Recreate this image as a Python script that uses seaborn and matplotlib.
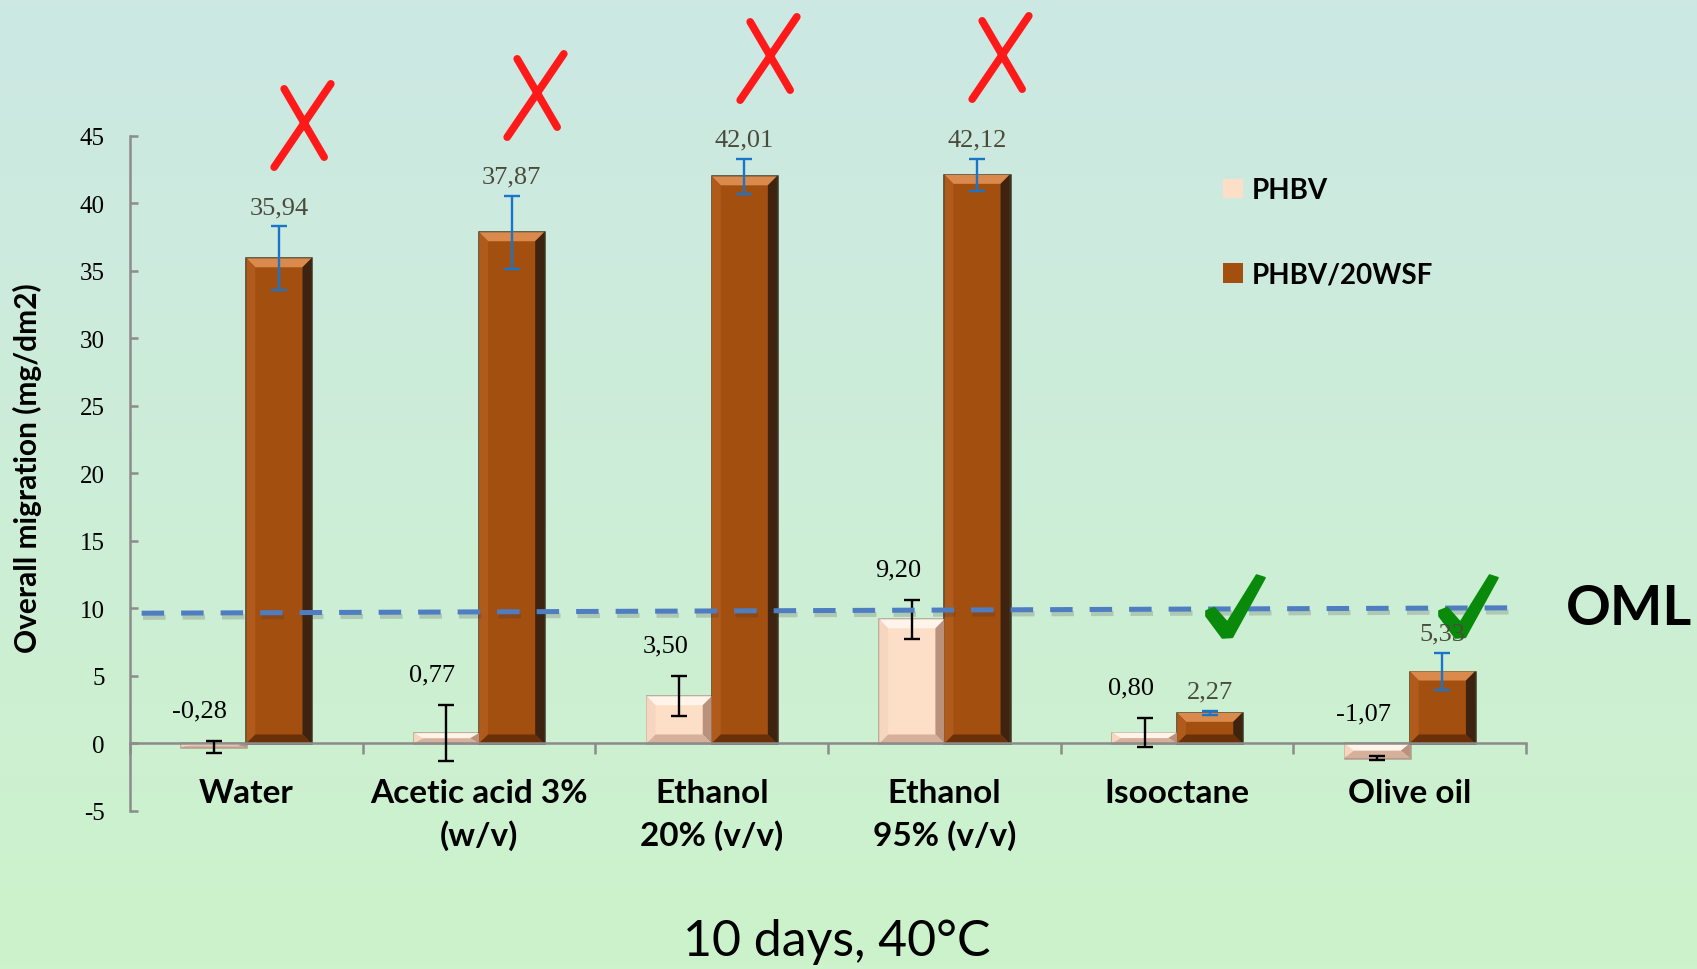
import numpy as np
import pandas as pd
import matplotlib
matplotlib.use("Agg")
import matplotlib.pyplot as plt
import matplotlib.patheffects as pe
from matplotlib.patches import Polygon
from matplotlib.path import Path
from matplotlib.markers import MarkerStyle
from matplotlib.colors import LinearSegmentedColormap
import seaborn as sns

# 데이터
media = ["Water", "Acetic acid 3%\n(w/v)", "Ethanol\n20% (v/v)",
         "Ethanol\n95% (v/v)", "Isooctane", "Olive oil"]
samples = ["PHBV", "PHBV/20WSF"]
phbv = [-0.28, 0.77, 3.50, 9.20, 0.80, -1.07]
phbv_sd = [0.45, 2.08, 1.50, 1.45, 1.07, 0.15]
wsf = [35.94, 37.87, 42.01, 42.12, 2.27, 5.33]
wsf_sd = [2.36, 2.70, 1.28, 1.20, 0.15, 1.36]
passed = [False, False, False, False, True, True]
oml = 10
y_ticks = [-5, 0, 5, 10, 15, 20, 25, 30, 35, 40, 45]

df = pd.DataFrame({
    "medium": media * 2,
    "sample": [samples[0]] * 6 + [samples[1]] * 6,
    "value": phbv + wsf,
})

plt.rcParams["axes.unicode_minus"] = False
serif = "Liberation Serif"
sans = "Lato"

fig = plt.figure(figsize=(16.97, 9.70), dpi=100)

# 배경 그라데이션
bg = fig.add_axes([0, 0, 1, 1])
grad = np.linspace(0, 1, 256).reshape(-1, 1)
cmap_bg = LinearSegmentedColormap.from_list("bg", ["#cde8e4", "#ccf3cb"])
bg.imshow(grad, aspect="auto", cmap=cmap_bg, extent=[0, 1, 0, 1])
bg.axis("off")

ax = fig.add_axes([0.0766, 0.1629, 0.8227, 0.6959])
ax.set_facecolor("none")

face = ["#fddfc7", "#a34f10"]
sns.barplot(data=df, x="medium", y="value", hue="sample", palette=face,
            saturation=1, width=0.56, errorbar=None, ax=ax, zorder=2)
bar_conts = list(ax.containers)

ax.set_xlim(-0.5, 5.5)
ax.set_ylim(-5, 45)

leg = ax.get_legend()
handles = leg.legend_handles
labels = [t.get_text() for t in leg.get_texts()]
leg.remove()

# 막대 테두리 + 입체(베벨) 효과
edge = ["#b39c8b", "#3d3522"]
bevel = [("#fff4ea", "#f6d6bf", "#b8927d", "#d6b09a"),
         ("#d98a4c", "#b05a1c", "#3e2410", "#6a3008")]
p0 = ax.transData.transform((0, 0))
p1 = ax.transData.transform((1, 1))
bx = 9 / (p1[0] - p0[0])
by_full = 9 / (p1[1] - p0[1])
for ci, cont in enumerate(bar_conts):
    for bar in cont:
        bar.set_edgecolor(edge[ci])
        bar.set_linewidth(1.8)
        x0 = bar.get_x()
        x1 = x0 + bar.get_width()
        y0 = min(bar.get_y(), bar.get_y() + bar.get_height())
        y1 = max(bar.get_y(), bar.get_y() + bar.get_height())
        by = min(by_full, (y1 - y0) / 2)
        top, left, right, bottom = bevel[ci]
        polys = [
            ([(x0, y1), (x1, y1), (x1 - bx, y1 - by), (x0 + bx, y1 - by)], top),
            ([(x0, y0), (x0, y1), (x0 + bx, y1 - by), (x0 + bx, y0 + by)], left),
            ([(x1, y0), (x1, y1), (x1 - bx, y1 - by), (x1 - bx, y0 + by)], right),
            ([(x0, y0), (x1, y0), (x1 - bx, y0 + by), (x0 + bx, y0 + by)], bottom),
        ]
        for pts, col in polys:
            ax.add_patch(Polygon(pts, closed=True, facecolor=col,
                                 edgecolor="none", zorder=2.1))

# 오차 막대
err_col = ["black", "#1a75c8"]
sds = [phbv_sd, wsf_sd]
vals = [phbv, wsf]
xs = []
for ci, cont in enumerate(bar_conts):
    x = [b.get_x() + b.get_width() / 2 for b in cont]
    xs.append(x)
    ax.errorbar(x, vals[ci], yerr=sds[ci], fmt="none", ecolor=err_col[ci],
                elinewidth=1.7, capsize=6, capthick=1.7, zorder=3)

# 값 라벨
for i in range(6):
    v, s = phbv[i], phbv_sd[i]
    ax.annotate(f"{v:.2f}".replace(".", ","), (xs[0][i] - 0.06, max(v + s, 0)),
                xytext=(0, 14), textcoords="offset points", ha="center",
                va="bottom", fontsize=19, family=serif, color="black", zorder=6)
    v, s = wsf[i], wsf_sd[i]
    ax.annotate(f"{v:.2f}".replace(".", ","), (xs[1][i], v + s),
                xytext=(0, 6), textcoords="offset points", ha="center",
                va="bottom", fontsize=19, family=serif, color="#4b4b3d", zorder=6)

# OML 기준선
ax.plot([-0.45, 5.45], [oml - 0.35, oml + 0.05], color="#4f7dc2", lw=3.6,
        dashes=(4.5, 3.4), zorder=4,
        path_effects=[pe.SimpleLineShadow(offset=(1, -3), alpha=0.2, shadow_color="#333333"),
                      pe.Normal()])
ax.text(1.074, oml, "OML", transform=ax.get_yaxis_transform(), ha="center",
        va="center", fontsize=40, fontweight="bold", family=sans, color="black")

# 판정 표시 (X / 체크) 모양
x_mark = MarkerStyle(Path([(-0.68, -1), (0.68, 1), (-0.44, 0.88), (0.52, -0.76)],
                          [Path.MOVETO, Path.LINETO, Path.MOVETO, Path.LINETO]),
                     capstyle="round")
check_pts = np.array([(-90, -14), (-65, -4), (-25, -49), (65, 96), (90, 88),
                      (-10, -94), (-40, -96), (-90, -29), (-90, -14)]) / 96
check_mark = MarkerStyle(Path(check_pts, closed=True), joinstyle="round")

fail_x = [xs[1][i] + 0.1 for i in range(6) if not passed[i]]
fail_y = [wsf[i] + wsf_sd[i] + 7.5 for i in range(6) if not passed[i]]
ok_x = [xs[1][i] + 0.11 for i in range(6) if passed[i]]
ok_y = [oml + 0.2 for i in range(6) if passed[i]]
ax.plot(fail_x, fail_y, ls="none", marker=x_mark, markersize=60, mew=5.5,
        mec="#ff1a1a", mfc="none", zorder=5, clip_on=False)
ax.plot(ok_x, ok_y, ls="none", marker=check_mark, markersize=45, mew=1.5,
        mec="#0a8a0a", mfc="#0a8a0a", zorder=5, clip_on=False)

# 축 설정
for side in ["top", "right"]:
    ax.spines[side].set_visible(False)
ax.spines["bottom"].set_position(("data", 0))
for side in ["left", "bottom"]:
    ax.spines[side].set_color("#8c8c8c")
    ax.spines[side].set_linewidth(1.8)
ax.spines["left"].set_bounds(-5, 45)

ax.set_yticks(y_ticks)
ax.tick_params(axis="y", direction="in", length=6, width=1.8, color="#8c8c8c",
               pad=18, labelsize=18)
for t in ax.get_yticklabels():
    t.set_family(serif)

ax.set_xticks(np.arange(-0.5, 6, 1), minor=True)
ax.tick_params(axis="x", which="major", length=0, pad=25)
ax.tick_params(axis="x", which="minor", direction="out", length=8, width=1.8,
               color="#8c8c8c")
ax.set_xticks(range(6))
ax.set_xticklabels(media, fontsize=24, fontweight="bold", family=sans,
                   linespacing=1.45)

ax.set_xlabel("")
ax.set_ylabel("Overall migration (mg/dm2)", fontsize=21.5, fontweight="bold",
              family=sans)
ax.yaxis.set_label_coords(-0.063, 0.51)

ax.legend(handles, labels, loc="upper left", bbox_to_anchor=(0.706, 0.842),
          bbox_transform=fig.transFigure, frameon=False, handlelength=0.7,
          handleheight=0.7, handletextpad=0.35, labelspacing=2.1,
          prop={"family": sans, "weight": "bold", "size": 20})

fig.text(0.493, 0.029, "10 days, 40°C", ha="center", va="center",
         fontsize=36, family=sans)

fig.savefig("out.png", dpi=100)
